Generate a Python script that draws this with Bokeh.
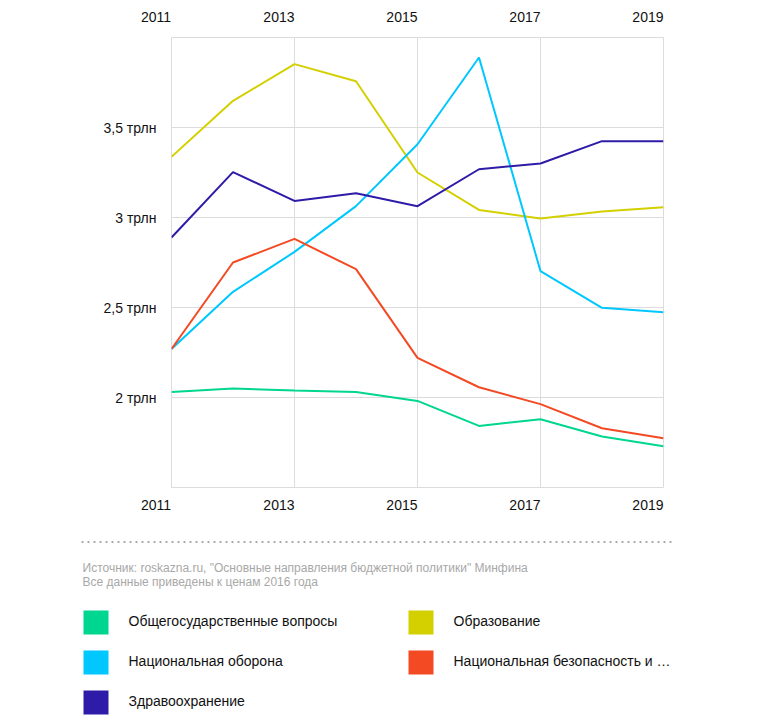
from bokeh.plotting import figure
from bokeh.models import Range1d, FixedTicker, LinearAxis
from bokeh.layouts import column
from bokeh.embed import file_html
from bokeh.resources import INLINE
from bokeh.core.properties import value

years = [2011, 2012, 2013, 2014, 2015, 2016, 2017, 2018, 2019]
x_ticks = [2011, 2013, 2015, 2017, 2019]
x_tick_labels = ["2011", "2013", "2015", "2017", "2019"]
y_ticks = [2.0, 2.5, 3.0, 3.5]
y_tick_labels = ["2 трлн", "2,5 трлн", "3 трлн", "3,5 трлн"]

general = [2.031, 2.050, 2.039, 2.031, 1.981, 1.842, 1.879, 1.783, 1.729]
education = [3.337, 3.648, 3.852, 3.757, 3.250, 3.042, 2.994, 3.033, 3.057]
defense = [2.270, 2.587, 2.809, 3.063, 3.407, 3.889, 2.702, 2.498, 2.474]
security = [2.270, 2.750, 2.881, 2.713, 2.220, 2.057, 1.963, 1.829, 1.774]
health = [2.889, 3.252, 3.092, 3.135, 3.063, 3.268, 3.300, 3.424, 3.424]

series_names = ["Общегосударственные вопросы", "Образование", "Национальная оборона",
                "Национальная безопасность и …", "Здравоохранение"]
series_values = [general, education, defense, security, health]
series_colors = ["#00D68F", "#D4D000", "#00C8FF", "#F34A24", "#2E1CA8"]

source_lines = ['Источник: roskazna.ru, "Основные направления бюджетной политики" Минфина',
                "Все данные приведены к ценам 2016 года"]

FONT = "Liberation Sans"
GRID = "#dcdcdc"
PAD = "\u00a0" * 8  # shifts centred tick label so that it ends at the tick

H1 = 518
p = figure(width=758, height=H1, output_backend="svg", toolbar_location=None,
           x_range=Range1d(2011, 2019), y_range=Range1d(1.5, 4.0),
           min_border_left=171, min_border_right=95, min_border_top=37, min_border_bottom=H1 - 487,
           x_axis_location=None, y_axis_location=None)
p.frame_align = False
p.outline_line_color = GRID
p.background_fill_color = "white"
p.border_fill_color = "white"

for loc, standoff in (("below", 3), ("above", 7)):
    ax = LinearAxis(ticker=FixedTicker(ticks=x_ticks))
    ax.axis_line_color = None
    ax.major_tick_line_color = None
    ax.minor_tick_line_color = None
    ax.major_label_standoff = standoff
    ax.major_label_text_font = FONT
    ax.major_label_text_font_size = "14px"
    ax.major_label_text_color = "#111111"
    ax.major_label_overrides = {t: l + PAD for t, l in zip(x_ticks, x_tick_labels)}
    p.add_layout(ax, loc)

yax = LinearAxis(ticker=FixedTicker(ticks=y_ticks))
yax.axis_line_color = None
yax.major_tick_line_color = None
yax.minor_tick_line_color = None
yax.major_label_standoff = 9
yax.major_label_text_font = FONT
yax.major_label_text_font_size = "14px"
yax.major_label_text_color = "#111111"
yax.major_label_overrides = {t: l for t, l in zip(y_ticks, y_tick_labels)}
p.add_layout(yax, "left")

p.xgrid.ticker = FixedTicker(ticks=x_ticks)
p.ygrid.ticker = FixedTicker(ticks=y_ticks)
p.xgrid.grid_line_color = GRID
p.ygrid.grid_line_color = GRID

for i in range(len(series_values)):
    p.line(years, series_values[i], line_color=series_colors[i], line_width=2)

# footer: data coordinates equal page pixels
H2 = 722 - H1
f = figure(width=758, height=H2, output_backend="svg", toolbar_location=None,
           x_range=Range1d(0, 758), y_range=Range1d(H1 + H2, H1),
           min_border=0, x_axis_location=None, y_axis_location=None)
f.frame_align = False
f.grid.visible = False
f.outline_line_color = None

f.line([81, 674], [541.5, 541.5], line_color="#aaaaaa", line_width=2, line_dash="2 4")
f.text(x=[82, 82], y=[567, 581], text=source_lines, text_font=value(FONT),
       text_font_size="12px", text_color="#a8a8a8", text_baseline="middle")

col_x = [95.5, 420.5]
row_y = [622, 662, 702]
legend_pos = [(0, 0), (1, 0), (0, 1), (1, 1), (0, 2)]
sx, sy, tx, ty = [], [], [], []
for (c, r) in legend_pos:
    sx.append(col_x[c]); sy.append(row_y[r])
    tx.append(col_x[c] + 32.5); ty.append(row_y[r] - 2)
f.rect(x=sx, y=sy, width=25, height=24, fill_color=series_colors, line_color=None)
f.text(x=tx, y=ty, text=series_names, text_font=value(FONT), text_font_size="14px",
       text_color="#111111", text_baseline="middle")

layout = column(p, f, spacing=0)
open("out.html", "w").write(file_html(layout, INLINE))
